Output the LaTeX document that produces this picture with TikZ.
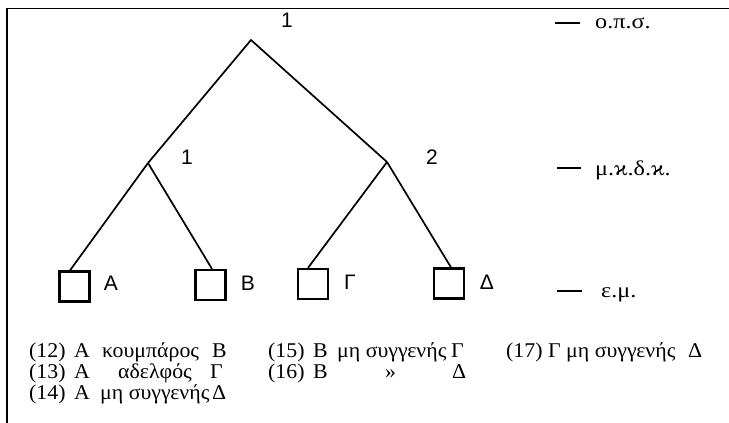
\documentclass[tikz,border=0pt]{standalone}
\usepackage{fontspec}
\setmainfont{Liberation Serif}
\newfontfamily\sfx{Liberation Sans}
\newfontfamily\grkb[FakeStretch=1.04]{Liberation Serif}
\newfontfamily\grkl[FakeStretch=1.15]{Liberation Serif}
\begin{document}
\begin{tikzpicture}[x=1pt,y=-1pt,
  branch/.style={line width=1.7pt},
  leafbox/.style={draw,line width=2.2pt,minimum width=30pt,minimum height=30pt,inner sep=0pt},
  treelbl/.style={font=\sfx\fontsize{21}{24}\selectfont,inner sep=0pt},
  legtxt/.style={font=\grkl\fontsize{21}{24}\selectfont,anchor=base west,inner sep=0pt},
  bottxt/.style={font=\grkb\fontsize{21}{24}\selectfont,anchor=base west,inner sep=0pt},
  legdash/.style={line width=2.2pt},
  frameline/.style={line width=1.6pt}]
\useasboundingbox (0,0) rectangle (729,423);
% frame
\coordinate (fl) at (7,423);
\coordinate (fc) at (7,8.5);
\coordinate (fr) at (729,8.5);
\draw[frameline] (fl) -- (fc) -- (fr);
% tree
\coordinate (top) at (251,40);
\coordinate (m1) at (148,163);
\coordinate (m2) at (387,162);
\node[leafbox] (A) at (74.5,286.5) {};
\node[leafbox] (B) at (210.5,285) {};
\node[leafbox] (G) at (313,284) {};
\node[leafbox] (D) at (449,283.5) {};
\draw[branch] (m1) -- (top) -- (m2);
\path (A.north) ++(-4.5,0) coordinate (a1);
\draw[branch] (m1) -- (a1);
\path (B.north) ++(1.5,0) coordinate (b1);
\draw[branch] (m1) -- (b1);
\path (G.north) ++(-5,0) coordinate (g1);
\draw[branch] (m2) -- (g1);
\path (D.north) ++(2,0) coordinate (d1);
\draw[branch] (m2) -- (d1);
\node[treelbl] (l0) at (287,20) {1};
\node[treelbl] (l1) at (187,157) {1};
\node[treelbl] (l2) at (432,157) {2};
\node[treelbl] (tA) at (111,283) {A};
\node[treelbl] (tB) at (248,283) {B};
\node[treelbl] (tG) at (350,282) {Γ};
\node[treelbl] (tD) at (487,282) {Δ};
% legend
\coordinate (d1a) at (555,23); \coordinate (d1b) at (580,23);
\coordinate (d2a) at (557,168); \coordinate (d2b) at (581,168);
\coordinate (d3a) at (557,291); \coordinate (d3b) at (582,291);
\draw[legdash] (d1a) -- (d1b);
\draw[legdash] (d2a) -- (d2b);
\draw[legdash] (d3a) -- (d3b);
\node[legtxt] (g1t) at (595,28) {ο.π.σ.};
\node[legtxt] (g2t) at (595,175) {μ.ϰ.δ.ϰ.};
\node[legtxt] (g3t) at (601,297) {ε.μ.};
% bottom text
\node[bottxt] (r1a) at (29,357) {(12)};
\node[bottxt] (r1b) at (74,357) {Α};
\node[bottxt] (r1c) at (102,357) {κουμπάρος};
\node[bottxt] (r1d) at (212,357) {Β};
\node[bottxt] (r2a) at (29,378) {(13)};
\node[bottxt] (r2b) at (74,378) {Α};
\node[bottxt] (r2c) at (118,378) {αδελφός};
\node[bottxt] (r2d) at (210,378) {Γ};
\node[bottxt] (r3a) at (29,399) {(14)};
\node[bottxt] (r3b) at (74,399) {Α};
\node[bottxt] (r3c) at (100,399) {μη συγγενής};
\node[bottxt] (r3d) at (212,399) {Δ};
\node[bottxt] (s1a) at (268,357) {(15)};
\node[bottxt] (s1b) at (313,357) {Β};
\node[bottxt] (s1c) at (337,357) {μη συγγενής};
\node[bottxt] (s1d) at (451,357) {Γ};
\node[bottxt] (s2a) at (268,378) {(16)};
\node[bottxt] (s2b) at (313,378) {Β};
\node[bottxt] (s2c) at (385,378) {»};
\node[bottxt] (s2d) at (452,378) {Δ};
\node[bottxt] (t1a) at (506,357) {(17)};
\node[bottxt] (t1b) at (548,357) {Γ};
\node[bottxt] (t1c) at (566,357) {μη συγγενής};
\node[bottxt] (t1d) at (688,357) {Δ};
\end{tikzpicture}
\end{document}
